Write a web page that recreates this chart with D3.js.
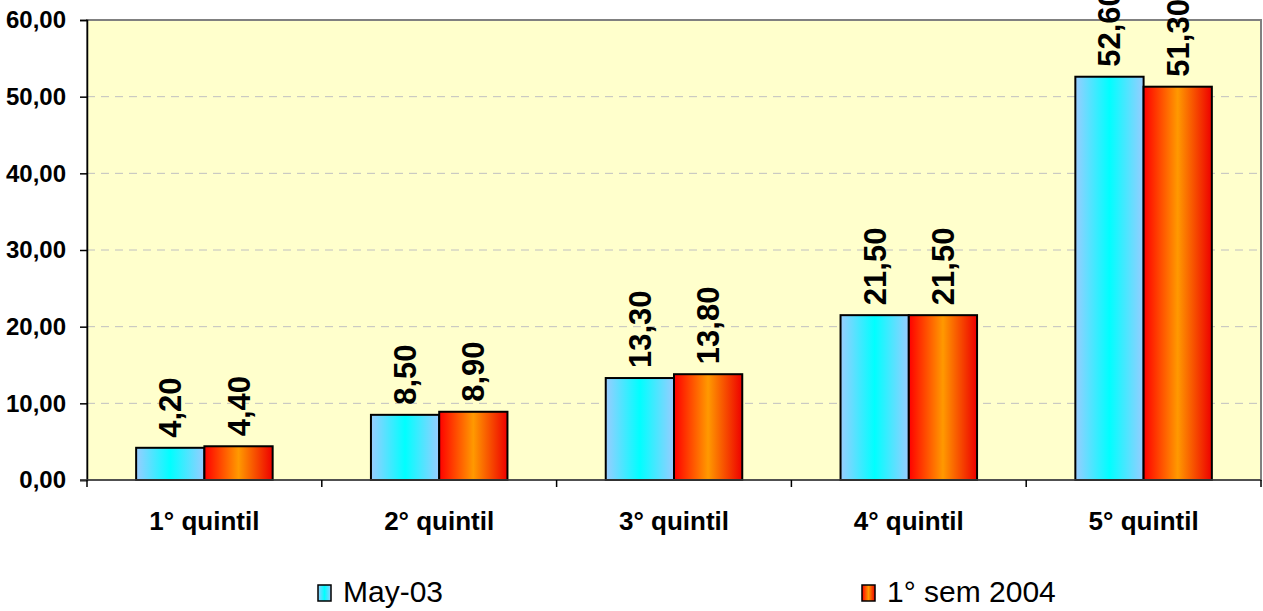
<!DOCTYPE html>
<html>
<head>
<meta charset="utf-8">
<script src="https://cdn.jsdelivr.net/npm/d3@7"></script>
<style>
  body { margin: 0; background: #fff; }
  text { font-family: "Liberation Sans", Arial, sans-serif; }
</style>
</head>
<body>
<div id="chart"></div>
<script>
// Data
var categories = ["1° quintil", "2° quintil", "3° quintil", "4° quintil", "5° quintil"];
var seriesNames = ["May-03", "1° sem 2004"];
var may03 = [4.2, 8.5, 13.3, 21.5, 52.6];
var sem2004 = [4.4, 8.9, 13.8, 21.5, 51.3];
var yTicks = [0, 10, 20, 30, 40, 50, 60];

var svg_Width = 1263, svg_Height = 611;
var margin = {top: 20, right: 2, bottom: 131, left: 87};
var chart_Width = svg_Width - margin.left - margin.right;
var chart_Height = svg_Height - margin.top - margin.bottom;

var svg = d3.select("#chart").append("svg")
  .attr("width", svg_Width).attr("height", svg_Height);

// gradients for the bars
var defs = svg.append("defs");
function addGrad(id, stops) {
  var g = defs.append("linearGradient").attr("id", id)
    .attr("x1", "0%").attr("x2", "100%").attr("y1", "0%").attr("y2", "0%");
  stops.forEach(function(s) {
    g.append("stop").attr("offset", s[0]).attr("stop-color", s[1]);
  });
}
addGrad("gBlue", [["0%", "#99ccff"], ["50%", "#00ffff"], ["100%", "#99ccff"]]);
addGrad("gOrange", [["0%", "#ff0000"], ["50%", "#ff9900"], ["100%", "#ee0000"]]);
var fills = ["url(#gBlue)", "url(#gOrange)"];

var g = svg.append("g").attr("transform", `translate(${margin.left},${margin.top})`);

var x0 = d3.scaleBand().domain(categories).range([0, chart_Width]).paddingInner(0).paddingOuter(0);
var x1 = d3.scaleBand().domain([0, 1]).range([0, x0.bandwidth()]).paddingOuter(0.72).paddingInner(0);
var y = d3.scaleLinear().domain([0, 60]).range([chart_Height, 0]);

// plot background
g.append("rect").attr("width", chart_Width).attr("height", chart_Height)
  .attr("fill", "#ffffcc").attr("stroke", "#808080").attr("stroke-width", 2);

// gridlines
g.selectAll(".grid").data(yTicks.filter(d => d > 0 && d < 60)).enter()
  .append("line")
  .attr("x1", 0).attr("x2", chart_Width)
  .attr("y1", d => y(d)).attr("y2", d => y(d))
  .attr("stroke", "#c0c0c0").attr("stroke-dasharray", "8,6");

// bars
var rows = categories.map((c, i) => ({cat: c, vals: [may03[i], sem2004[i]]}));
var grp = g.selectAll(".grp").data(rows).enter().append("g")
  .attr("transform", d => `translate(${x0(d.cat)},0)`);

grp.selectAll("rect").data(d => d.vals.map((v, k) => ({v: v, k: k}))).enter()
  .append("rect")
  .attr("x", d => x1(d.k))
  .attr("y", d => y(d.v))
  .attr("width", x1.bandwidth())
  .attr("height", d => chart_Height - y(d.v))
  .attr("fill", d => fills[d.k])
  .attr("stroke", "#000").attr("stroke-width", 2);

// value labels
grp.selectAll(".val").data(d => d.vals.map((v, k) => ({v: v, k: k}))).enter()
  .append("text")
  .attr("transform", d => `translate(${x1(d.k) + x1.bandwidth() / 2 + 11},${y(d.v) - 10}) rotate(-90)`)
  .attr("font-size", 31).attr("font-weight", "bold")
  .text(d => d3.format(".2f")(d.v).replace(".", ","));

// axes
var left_Axis = d3.axisLeft(y).tickValues(yTicks).tickSize(7).tickPadding(14)
  .tickFormat(d => d3.format(".2f")(d).replace(".", ","));
var yAx = g.append("g").call(left_Axis);
yAx.select(".domain").attr("stroke", "#000").attr("stroke-width", 1.5);
yAx.selectAll(".tick line").attr("stroke", "#000").attr("stroke-width", 1.5);
yAx.selectAll("text").attr("font-size", 24).attr("font-weight", "bold")
  .attr("font-family", "Liberation Sans, Arial, sans-serif").attr("fill", "#000");

var xAx = g.append("g").attr("transform", `translate(0,${chart_Height})`);
xAx.append("line").attr("x1", -7).attr("x2", chart_Width).attr("stroke", "#404040").attr("stroke-width", 1.5);
xAx.selectAll(".xt").data(categories.map(c => x0(c) + x0.bandwidth())).enter()
  .append("line").attr("x1", d => d).attr("x2", d => d).attr("y1", 0).attr("y2", 7)
  .attr("stroke", "#000").attr("stroke-width", 1.5);
g.append("line").attr("x1", 0).attr("x2", 0).attr("y1", chart_Height).attr("y2", chart_Height + 7)
  .attr("stroke", "#000").attr("stroke-width", 1.5);
xAx.selectAll(".lab").data(categories).enter().append("text")
  .attr("x", d => x0(d) + x0.bandwidth() / 2).attr("y", 50)
  .attr("text-anchor", "middle").attr("font-size", 26).attr("font-weight", "bold")
  .text(d => d);

// legend
var legX = [318, 862];
var leg = svg.selectAll(".leg").data(seriesNames).enter().append("g")
  .attr("transform", (d, i) => `translate(${legX[i]},585)`);
leg.append("rect").attr("width", 13).attr("height", 16)
  .attr("fill", (d, i) => fills[i]).attr("stroke", "#000").attr("stroke-width", 1.5);
leg.append("text").attr("x", 25).attr("y", 17).attr("font-size", 30).text(d => d);
</script>
</body>
</html>
